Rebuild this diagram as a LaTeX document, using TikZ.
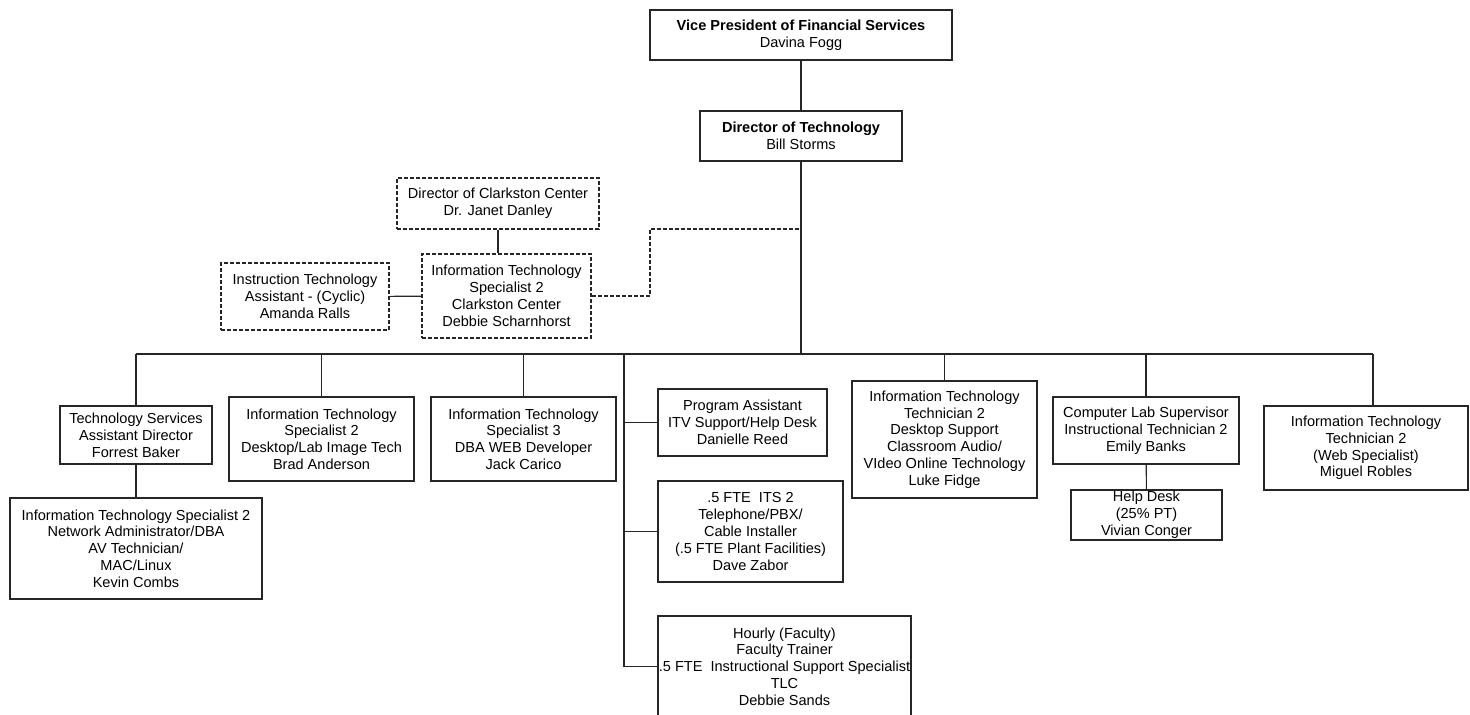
\documentclass[tikz,border=0pt]{standalone}
\usepackage{fontspec}
\setmainfont{Liberation Sans}

\begin{document}
\begin{tikzpicture}[
    x=0.75pt, y=-0.75pt,
    post/.style={draw=black!85, line width=0.8pt, fill=white, align=center,
        inner sep=0pt, font=\fontsize{10.9}{12.6}\selectfont},
    boxsize/.style 2 args={minimum width=#1*0.75pt, minimum height=#2*0.75pt},
    dashpost/.style={post, dash pattern=on 3pt off 1.5pt},
    link/.style={draw=black!85, line width=0.8pt},
    dashlink/.style={link, dash pattern=on 3pt off 1.5pt}
]
    \useasboundingbox (0,0) rectangle (1470,714);
    \node[post, boxsize={302}{50}] (vp) at (801,35)
        {\textbf{Vice President of Financial Services}\\Davina Fogg};
    \node[post, boxsize={202}{50}] (dir) at (801,136)
        {\textbf{Director of Technology}\\Bill Storms};
    \node[dashpost, boxsize={202}{51}] (clark) at (498,203.5)
        {Director of Clarkston Center\\Dr. Janet Danley};
    \node[dashpost, boxsize={169}{84}] (itsc) at (506.5,296)
        {Information Technology\\Specialist 2\\Clarkston Center\\Debbie Scharnhorst};
    \node[dashpost, boxsize={168}{67}] (ita) at (305,296.5)
        {Instruction Technology\\Assistant - (Cyclic)\\Amanda Ralls};
    \node[post, boxsize={152}{58}] (tsad) at (136,435)
        {Technology Services\\Assistant Director\\Forrest Baker};
    \node[post, boxsize={252}{101}] (net) at (136,548.5)
        {Information Technology Specialist 2\\Network Administrator/DBA\\AV Technician/\\MAC/Linux\\Kevin Combs};
    \node[post, boxsize={185}{84}] (lab2) at (321.5,439)
        {Information Technology\\Specialist 2\\Desktop/Lab Image Tech\\Brad Anderson};
    \node[post, boxsize={185}{84}] (dba3) at (523.5,439)
        {Information Technology\\Specialist 3\\DBA WEB Developer\\Jack Carico};
    \node[post, boxsize={169}{67}] (itv) at (742.5,422.5)
        {Program Assistant\\ITV Support/Help Desk\\Danielle Reed};
    \node[post, boxsize={185}{101}] (pbx) at (750.5,531.5)
        {.5 FTE\ \ ITS 2\\Telephone/PBX/\\Cable Installer\\(.5 FTE Plant Facilities)\\Dave Zabor};
    \node[post, boxsize={253}{101}] (tlc) at (784.5,666.5)
        {Hourly (Faculty)\\Faculty Trainer\\.5 FTE\ \ Instructional Support Specialist\\TLC\\Debbie Sands};
    \node[post, boxsize={185}{117}] (desk) at (944.5,439.5)
        {Information Technology\\Technician 2\\Desktop Support\\Classroom Audio/\\VIdeo Online Technology\\Luke Fidge};
    \node[post, boxsize={186}{67}] (cls) at (1146,430.5)
        {Computer Lab Supervisor\\Instructional Technician 2\\Emily Banks};
    \node[post, boxsize={151}{50}] (help) at (1146.5,515)
        {Help Desk\\(25\% PT)\\Vivian Conger};
    \node[post, boxsize={204}{84}] (web) at (1366,448)
        {Information Technology\\Technician 2\\(Web Specialist)\\Miguel Robles};

    \coordinate (busl) at (136,354);
    \coordinate (busr) at (1373,354);
    \coordinate (bend) at (650,229);
    \draw[link] (vp) -- (dir);
    \draw[link] (dir.south) -- (dir.south |- busl);
    \draw[link] (busl) -- (busr);
    \draw[link] (busl) -- (tsad.north);
    \draw[link] (tsad) -- (net);
    \draw[link] (busl -| lab2.north) -- (lab2.north);
    \draw[link] (busl -| dba3.north) -- (dba3.north);
    \draw[link] (624,354) |- (tlc.west);
    \draw[link] (624,422.5) -- (itv.west);
    \draw[link] (624,531.5) -- (pbx.west);
    \draw[link] (busl -| desk.north) -- (desk.north);
    \draw[link] (busl -| cls.north) -- (cls.north);
    \draw[link] (cls) -- (help);
    \draw[link] (busr) -- (busr |- web.north);
    \draw[link] (clark.south) -- (clark.south |- itsc.north);
    \draw[link] (ita) -- (itsc);
    \draw[dashlink] (itsc.east) -| (bend) -- (bend -| dir.south);
\end{tikzpicture}
\end{document}
